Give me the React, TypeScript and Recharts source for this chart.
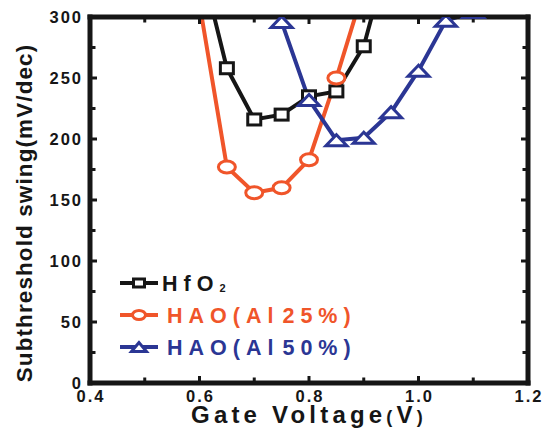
import React from "react";
import { LineChart, Line, XAxis, YAxis, ReferenceLine, Label } from "recharts";

// ── Data ─────────────────────────────────────────────────────────────────────

const hfo2Voltage = [0.6, 0.65, 0.7, 0.75, 0.8, 0.85, 0.9, 0.95];
const hfo2Swing = [349, 258, 216, 220, 235, 239, 276, 359];

const hao25Voltage = [0.6, 0.65, 0.7, 0.75, 0.8, 0.85, 0.9];
const hao25Swing = [311, 177, 156, 160, 183, 250, 323];

const hao50Voltage = [0.75, 0.8, 0.85, 0.9, 0.95, 1.0, 1.05, 1.1, 1.15];
const hao50Swing = [296, 232, 199, 201, 222, 256, 297, 304, 330];

const xTicks = [0.4, 0.5, 0.6, 0.7, 0.8, 0.9, 1.0, 1.1, 1.2];
const xTickLabels = ["0.4", "", "0.6", "", "0.8", "", "1.0", "", "1.2"];
const yTicks = [0, 25, 50, 75, 100, 125, 150, 175, 200, 225, 250, 275, 300];
const yTickLabels = ["0", "", "50", "", "100", "", "150", "", "200", "", "250", "", "300"];

const X_DOMAIN = [0.4, 1.2];
const Y_DOMAIN = [0, 300];

// ── Style ────────────────────────────────────────────────────────────────────

const INK = "#161616";
const ORANGE = "#f0552a";
const BLUE = "#2b3694";
const FONT = "'Liberation Sans', Arial, Helvetica, sans-serif";
const FRAME_W = 5;

const toPoints = (xs: number[], ys: number[]) => xs.map((v, i) => ({ v, s: ys[i] }));

// ── Markers ──────────────────────────────────────────────────────────────────

function square(color: string, w = 13, h = 11) {
  return (props: any) => {
    const { cx, cy, index } = props;
    if (cx == null || cy == null) return <g key={`s-${index}`} />;
    return (
      <rect key={`s-${index}`} x={cx - w / 2} y={cy - h / 2} width={w} height={h}
        fill="#fff" stroke={color} strokeWidth={3} />
    );
  };
}

function ellipse(color: string, rx = 8.5, ry = 6) {
  return (props: any) => {
    const { cx, cy, index } = props;
    if (cx == null || cy == null) return <g key={`c-${index}`} />;
    return (
      <ellipse key={`c-${index}`} cx={cx} cy={cy} rx={rx} ry={ry}
        fill="#fff" stroke={color} strokeWidth={3} />
    );
  };
}

function triangle(color: string, hw = 10.5, hh = 5.5) {
  return (props: any) => {
    const { cx, cy, index } = props;
    if (cx == null || cy == null) return <g key={`t-${index}`} />;
    return (
      <polygon key={`t-${index}`}
        points={`${cx},${cy - hh} ${cx - hw},${cy + hh} ${cx + hw},${cy + hh}`}
        fill="#fff" stroke={color} strokeWidth={3} />
    );
  };
}

// ── Ticks (inward, on all four sides) ────────────────────────────────────────

const tickText = {
  fontFamily: FONT,
  fontWeight: 700,
  fontSize: 16.5,
  letterSpacing: 2,
  fill: INK,
};

const tickLen = (label: string) => (label ? 7 : 5.5);

const renderBottomTick = ({ x, y, payload }: any) => {
  const label = xTickLabels[xTicks.indexOf(payload.value)];
  return (
    <g>
      <line x1={x} x2={x} y1={y} y2={y - tickLen(label)} stroke={INK} strokeWidth={3} />
      {label ? (
        <text x={x + 1} y={y + 18.5} textAnchor="middle" style={tickText}>{label}</text>
      ) : null}
    </g>
  );
};

const renderLeftTick = ({ x, y, payload }: any) => {
  const label = yTickLabels[yTicks.indexOf(payload.value)];
  return (
    <g>
      <line x1={x} x2={x + tickLen(label)} y1={y} y2={y} stroke={INK} strokeWidth={3} />
      {label ? (
        <text x={x - 7} y={y + 6} textAnchor="end" style={tickText}>{label}</text>
      ) : null}
    </g>
  );
};

// top edge of the frame, with its inward ticks
const renderTopEdge = (p: any) => {
  const left = Math.min(p.x1, p.x2);
  const right = Math.max(p.x1, p.x2);
  const y = p.y1;
  return (
    <g>
      <line x1={left} x2={right} y1={y} y2={y} stroke={INK} strokeWidth={FRAME_W} strokeLinecap="square" />
      {xTicks.map((t, i) => {
        const x = left + ((t - X_DOMAIN[0]) / (X_DOMAIN[1] - X_DOMAIN[0])) * (right - left);
        return <line key={i} x1={x} x2={x} y1={y} y2={y + tickLen(xTickLabels[i])} stroke={INK} strokeWidth={3} />;
      })}
    </g>
  );
};

// right edge of the frame, with its inward ticks
const renderRightEdge = (p: any) => {
  const top = Math.min(p.y1, p.y2);
  const bottom = Math.max(p.y1, p.y2);
  const x = p.x1;
  return (
    <g>
      <line x1={x} x2={x} y1={top} y2={bottom} stroke={INK} strokeWidth={FRAME_W} strokeLinecap="square" />
      {yTicks.map((t, i) => {
        const y = bottom - ((t - Y_DOMAIN[0]) / (Y_DOMAIN[1] - Y_DOMAIN[0])) * (bottom - top);
        return <line key={i} x1={x} x2={x - tickLen(yTickLabels[i])} y1={y} y2={y} stroke={INK} strokeWidth={3} />;
      })}
    </g>
  );
};

// ── Legend ───────────────────────────────────────────────────────────────────

const legendText = {
  fontFamily: FONT,
  fontWeight: 700,
  fontSize: 21.5,
  letterSpacing: 6,
};

function LegendBox() {
  const rows = [
    { color: INK, marker: square(INK, 11, 8) },
    { color: ORANGE, marker: ellipse(ORANGE, 6.5, 4.5) },
    { color: BLUE, marker: triangle(BLUE, 7.5, 4.5) },
  ];
  return (
    <svg width={330} height={100} style={{ display: "block" }}>
      {rows.map((r, i) => {
        const cy = 16 + i * 32;
        return (
          <g key={i}>
            <line x1={5} x2={43} y1={cy} y2={cy} stroke={r.color} strokeWidth={4} />
            {r.marker({ cx: 24, cy, index: i })}
          </g>
        );
      })}
      <text x={47} y={16 + 7.5} fill={INK} style={legendText}>
        HfO<tspan fontSize={11} dy={1}>2</tspan>
      </text>
      <text x={52} y={48 + 7.5} fill={ORANGE} style={legendText}>
        HAO(Al<tspan dx={3}>25%)</tspan>
      </text>
      <text x={52} y={80 + 7.5} fill={BLUE} style={legendText}>
        HAO(Al<tspan dx={3}>50%)</tspan>
      </text>
    </svg>
  );
}

// ── Chart ────────────────────────────────────────────────────────────────────

export default function App() {
  const frame = { stroke: INK, strokeWidth: FRAME_W, strokeLinecap: "square" as const };

  return (
    <div style={{ position: "absolute", left: 0, top: 0, width: 549, height: 435, background: "#fff" }}>
      <LineChart width={549} height={435} margin={{ top: 17, right: 21, bottom: 5, left: 5 }}>
        <XAxis
          type="number"
          dataKey="v"
          domain={X_DOMAIN}
          ticks={xTicks}
          interval={0}
          allowDataOverflow
          height={47}
          tickSize={0}
          tickMargin={0}
          tickLine={false}
          axisLine={frame}
          tick={renderBottomTick}
        >
          <Label
            content={() => (
              <text x={309} y={423} textAnchor="middle" fill={INK}
                style={{ fontFamily: FONT, fontWeight: 700, fontSize: 24, letterSpacing: 4.2 }}>
                Gate Voltage<tspan fontSize={18}>(</tspan>V<tspan fontSize={18}>)</tspan>
              </text>
            )}
          />
        </XAxis>
        <YAxis
          type="number"
          domain={Y_DOMAIN}
          ticks={yTicks}
          interval={0}
          allowDataOverflow
          width={85}
          tickSize={0}
          tickMargin={0}
          tickLine={false}
          axisLine={frame}
          tick={renderLeftTick}
        >
          <Label
            content={() => (
              <text x={24} y={213} transform="rotate(-90 24 213)" textAnchor="middle"
                dominantBaseline="central" fill={INK}
                style={{ fontFamily: FONT, fontWeight: 700, fontSize: 22.5, letterSpacing: 1.1 }}>
                Subthreshold swing(mV/dec)
              </text>
            )}
          />
        </YAxis>

        <Line data={toPoints(hfo2Voltage, hfo2Swing)} dataKey="s" name="HfO2" type="linear"
          stroke={INK} strokeWidth={4} dot={square(INK)} activeDot={false} isAnimationActive={false} />
        <Line data={toPoints(hao25Voltage, hao25Swing)} dataKey="s" name="HAO(Al 25%)" type="linear"
          stroke={ORANGE} strokeWidth={4} dot={ellipse(ORANGE)} activeDot={false} isAnimationActive={false} />
        <Line data={toPoints(hao50Voltage, hao50Swing)} dataKey="s" name="HAO(Al 50%)" type="linear"
          stroke={BLUE} strokeWidth={4} dot={triangle(BLUE)} activeDot={false} isAnimationActive={false} />

        <ReferenceLine y={Y_DOMAIN[1]} ifOverflow="visible" shape={renderTopEdge} />
        <ReferenceLine x={X_DOMAIN[1]} ifOverflow="visible" shape={renderRightEdge} />
      </LineChart>
      <div style={{ position: "absolute", left: 115, top: 267 }}>
        <LegendBox />
      </div>
    </div>
  );
}
